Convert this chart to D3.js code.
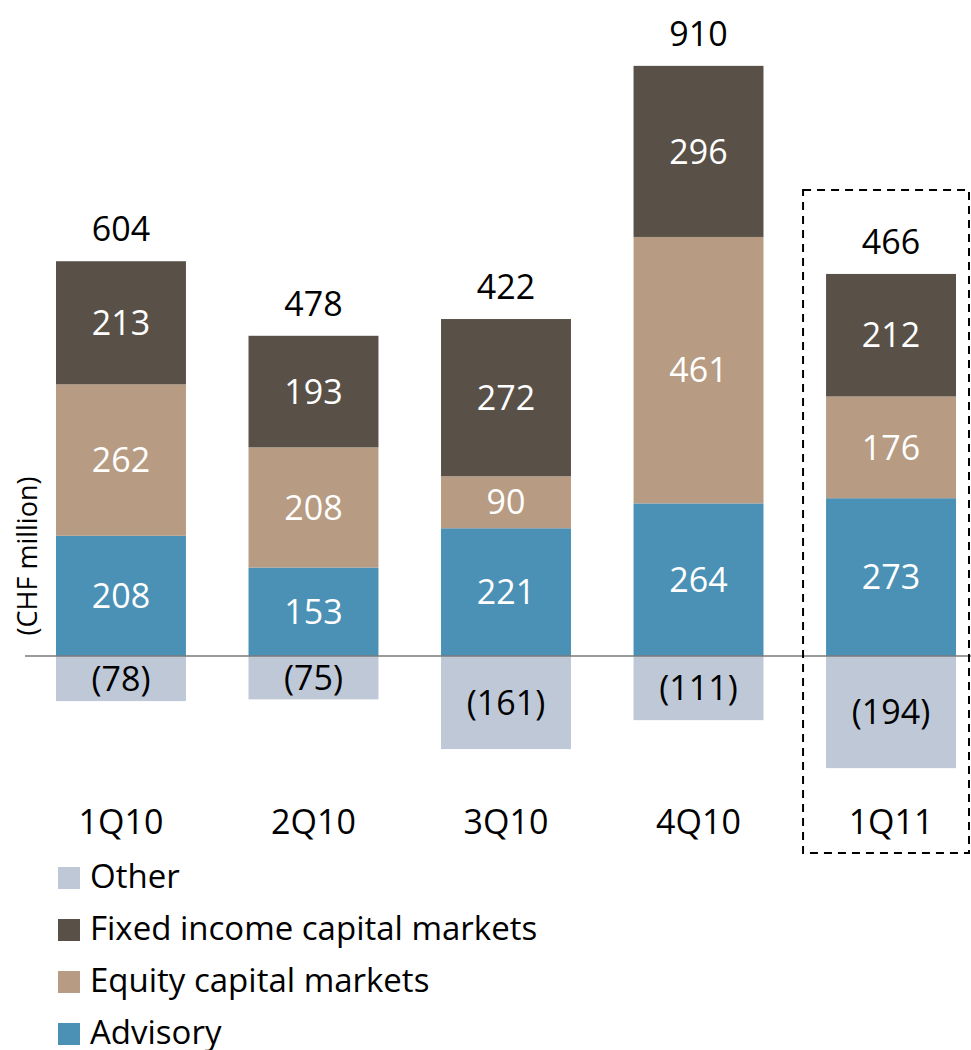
<!DOCTYPE html>
<html>
<head>
<meta charset="utf-8">
<script src="https://cdn.jsdelivr.net/npm/d3@7"></script>
<style>
  body { margin: 0; background: #fff; }
  svg text { font-family: "Open Sans", "Noto Sans", sans-serif; }
</style>
</head>
<body>
<svg id="chart" width="971" height="1050"></svg>
<script>
const quarters = ["1Q10", "2Q10", "3Q10", "4Q10", "1Q11"];
const advisory = [208, 153, 221, 264, 273];
const equity = [262, 208, 90, 461, 176];
const fixedIncome = [213, 193, 272, 296, 212];
const other = [-78, -75, -161, -111, -194];
const totals = [604, 478, 422, 910, 466];

const seriesNames = ["Other", "Fixed income capital markets", "Equity capital markets", "Advisory"];
const seriesColors = { "Advisory": "#4a91b5", "Equity capital markets": "#b79b82",
                       "Fixed income capital markets": "#595148", "Other": "#bec8d7" };

const svg = d3.select("#chart");

const x = d3.scaleBand()
    .domain(quarters)
    .range([56, 956])
    .paddingInner(0.325)
    .paddingOuter(0);

const y = d3.scaleLinear()
    .domain([-200, 1050])
    .range([771.6, 49.1]);

// positive stack: advisory, equity, fixed income; other below zero
const stacked = quarters.map((q, i) => {
    let base = 0;
    const segs = [];
    [["Advisory", advisory[i]], ["Equity capital markets", equity[i]], ["Fixed income capital markets", fixedIncome[i]]]
        .forEach(([name, v]) => {
            segs.push({ q: q, name: name, y0: base, y1: base + v, v: v });
            base += v;
        });
    segs.push({ q: q, name: "Other", y0: other[i], y1: 0, v: other[i] });
    return segs;
}).flat();

const g = svg.append("g");

g.selectAll("rect.seg")
    .data(stacked)
    .enter().append("rect")
    .attr("class", "seg")
    .attr("x", d => x(d.q))
    .attr("width", x.bandwidth())
    .attr("y", d => y(d.y1))
    .attr("height", d => y(d.y0) - y(d.y1))
    .attr("fill", d => seriesColors[d.name]);

g.selectAll("text.seg")
    .data(stacked)
    .enter().append("text")
    .attr("class", "seg")
    .attr("x", d => x(d.q) + x.bandwidth() / 2)
    .attr("y", d => (y(d.y0) + y(d.y1)) / 2)
    .attr("dy", "0.36em")
    .attr("text-anchor", "middle")
    .attr("font-size", 34)
    .attr("fill", d => d.name === "Other" ? "#000" : "#fff")
    .text(d => d.v < 0 ? "(" + (-d.v) + ")" : d.v);

// zero line
svg.append("line")
    .attr("x1", 25).attr("x2", 971)
    .attr("y1", y(0)).attr("y2", y(0))
    .attr("stroke", "#7a7a7a")
    .attr("stroke-width", 1.5);

// totals
g.selectAll("text.total")
    .data(quarters)
    .enter().append("text")
    .attr("class", "total")
    .attr("x", d => x(d) + x.bandwidth() / 2)
    .attr("y", (d, i) => y(advisory[i] + equity[i] + fixedIncome[i]) - 20)
    .attr("text-anchor", "middle")
    .attr("font-size", 34)
    .attr("fill", "#000")
    .text((d, i) => totals[i]);

// category labels
g.selectAll("text.cat")
    .data(quarters)
    .enter().append("text")
    .attr("class", "cat")
    .attr("x", d => x(d) + x.bandwidth() / 2)
    .attr("y", 834)
    .attr("text-anchor", "middle")
    .attr("font-size", 34)
    .attr("fill", "#000")
    .text(d => d);

// dashed highlight box around 1Q11
const last = quarters[quarters.length - 1];
svg.append("rect")
    .attr("x", x(last) - 23)
    .attr("y", 190)
    .attr("width", 969 - (x(last) - 23))
    .attr("height", 663)
    .attr("fill", "none")
    .attr("stroke", "#000")
    .attr("stroke-width", 2)
    .attr("stroke-dasharray", "8,6");

// y label
svg.append("text")
    .attr("transform", "translate(37,556) rotate(-90)")
    .attr("text-anchor", "middle")
    .attr("font-size", 27)
    .attr("fill", "#000")
    .text("(CHF million)");

// legend
const legend = svg.append("g").attr("transform", "translate(58,867)");
const rows = legend.selectAll("g")
    .data(seriesNames)
    .enter().append("g")
    .attr("transform", (d, i) => "translate(0," + i * 52 + ")");
rows.append("rect")
    .attr("width", 22).attr("height", 22)
    .attr("fill", d => seriesColors[d]);
rows.append("text")
    .attr("x", 32)
    .attr("y", 21)
    .attr("font-size", 33)
    .attr("fill", "#000")
    .text(d => d);
</script>
</body>
</html>
